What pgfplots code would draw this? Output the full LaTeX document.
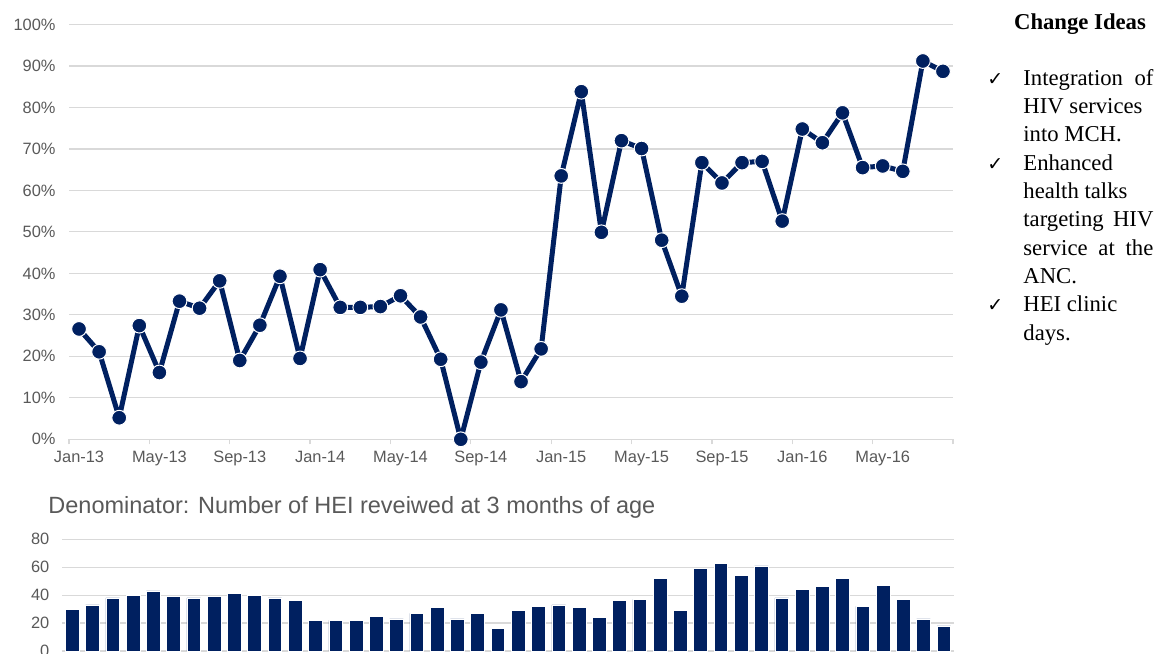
\documentclass[border=0pt]{standalone}
\usepackage{fontspec}
\setmainfont{Liberation Sans}
\newfontfamily\tnr{Liberation Serif}
\newfontfamily\dejavu{DejaVu Sans}
\usepackage{pgfplots}
\pgfplotsset{compat=1.18}
\definecolor{navy}{RGB}{0,32,96}
\definecolor{gridgray}{RGB}{217,217,217}
\definecolor{labgray}{RGB}{89,89,89}

\pgfplotstableread{
x y
0 26.6
1 21.1
2 5.2
3 27.4
4 16.1
5 33.3
6 31.6
7 38.2
8 19.0
9 27.5
10 39.3
11 19.5
12 40.9
13 31.8
14 31.8
15 32.0
16 34.6
17 29.5
18 19.3
19 0.0
20 18.6
21 31.2
22 13.9
23 21.8
24 63.5
25 83.8
26 49.9
27 72.0
28 70.1
29 48.0
30 34.5
31 66.7
32 61.8
33 66.7
34 67.0
35 52.6
36 74.8
37 71.5
38 78.7
39 65.5
40 65.9
41 64.6
42 91.2
43 88.7
}\pct

\pgfplotstableread{
x n
0 30
1 33
2 38
3 40
4 43
5 39
6 38
7 39
8 41
9 40
10 38
11 36
12 22
13 22
14 22
15 25
16 23
17 27
18 31
19 23
20 27
21 16
22 29
23 32
24 33
25 31
26 24
27 36
28 37
29 52
30 29
31 59
32 63
33 54
34 61
35 38
36 44
37 46
38 52
39 32
40 47
41 37
42 23
43 18
}\den

\begin{document}
\begin{tikzpicture}
\path[use as bounding box] (0,0) rectangle (577.5pt,326.5pt);

% ---------- top chart ----------
\begin{axis}[
  at={(34.5pt,106.85pt)}, anchor=south west,
  scale only axis, width=442pt, height=207.4pt,
  xmin=-0.5, xmax=43.5, ymin=0, ymax=100,
  axis line style={draw=none},
  tick pos=left,
  ymajorgrids, grid style={gridgray, line width=0.6pt},
  ytick={0,10,...,100},
  yticklabel={\pgfmathprintnumber{\tick}\%},
  xtick={0,4,...,40},
  xticklabels={Jan-13,May-13,Sep-13,Jan-14,May-14,Sep-14,Jan-15,May-15,Sep-15,Jan-16,May-16},
  major tick length=0pt,
  extra x ticks={-0.5,3.5,...,43.5},
  extra x tick labels={},
  extra x tick style={grid=none, major tick length=2.5pt, tick align=outside, tick style={gridgray, line width=0.6pt}},
  ticklabel style={font=\fontsize{8.2}{10}\selectfont, text=labgray},
  yticklabel style={xshift=-3.2pt},
  xticklabel style={yshift=-2.5pt},
  /pgf/number format/assume math mode=true,
  clip=false,
]
\addplot[navy, line width=2.5pt, line join=round, mark=*, mark size=3.7pt,
  mark options={fill=navy, draw=white, line width=0.5pt}] table[x=x,y=y] {\pct};
\end{axis}

% ---------- bottom chart ----------
\begin{axis}[
  at={(31pt,1pt)}, anchor=south west,
  scale only axis, width=446pt, height=55.85pt,
  xmin=-0.5, xmax=43.5, ymin=0, ymax=80,
  axis line style={draw=none},
  ymajorgrids, grid style={gridgray, line width=0.6pt},
  ytick={0,20,...,80},
  xtick=\empty,
  major tick length=0pt,
  ticklabel style={font=\fontsize{8.2}{10}\selectfont, text=labgray},
  yticklabel style={xshift=-2.8pt},
  /pgf/number format/assume math mode=true,
  ybar, bar width=6.85pt,
]
\addplot[fill=navy, draw=white, line width=0.3pt] table[x=x,y=n] {\den};
\end{axis}

\node[anchor=base west, font=\fontsize{11.75}{14}\selectfont, text=labgray, inner sep=0pt]
  at (24pt,70pt) {Denominator: Number of HEI reveiwed at 3 months of age};

% ---------- change ideas ----------
\node[anchor=base, font=\tnr\bfseries\fontsize{11.35}{13}\selectfont, inner sep=0pt]
  at (540pt,311.8pt) {Change Ideas};
\begin{scope}[every node/.style={anchor=base west, inner sep=0pt, font=\tnr\fontsize{11.35}{13}\selectfont}]
\node[font=\dejavu\fontsize{9.5}{11}\selectfont] at (493.5pt,283.8pt) {✓};
\node at (511.5pt,283.8pt) {\makebox[65pt][s]{Integration of}};
\node at (511.5pt,269.6pt) {HIV services};
\node at (511.5pt,255.5pt) {into MCH.};
\node[font=\dejavu\fontsize{9.5}{11}\selectfont] at (493.5pt,241.4pt) {✓};
\node at (511.5pt,241.4pt) {Enhanced};
\node at (511.5pt,227.2pt) {health talks};
\node at (511.5pt,213pt) {\makebox[65pt][s]{targeting HIV}};
\node at (511.5pt,198.9pt) {\makebox[65pt][s]{service at the}};
\node at (511.5pt,184.7pt) {ANC.};
\node[font=\dejavu\fontsize{9.5}{11}\selectfont] at (493.5pt,170.5pt) {✓};
\node at (511.5pt,170.5pt) {HEI clinic};
\node at (511.5pt,156.4pt) {days.};
\end{scope}
\end{tikzpicture}
\end{document}
